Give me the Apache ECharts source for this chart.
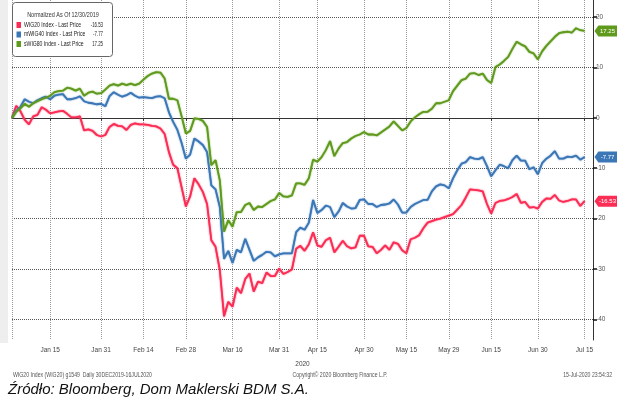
<!DOCTYPE html>
<html><head><meta charset="utf-8">
<script src="https://cdn.jsdelivr.net/npm/echarts@6/dist/echarts.min.js"></script>
<style>html,body{margin:0;padding:0;background:#fff}#c{width:617px;height:401px}</style>
</head><body><div id="c"></div><script>
// Warsaw trading calendar (weekdays minus exchange holidays)
const startDate = '2019-12-30';
const endDate = '2020-07-17';
const holidays = ['2019-12-31','2020-01-01','2020-01-06','2020-04-10','2020-04-13','2020-05-01','2020-06-11'];
const tickDates = ['2020-01-15','2020-01-31','2020-02-14','2020-02-28','2020-03-16','2020-03-31','2020-04-15','2020-04-30','2020-05-15','2020-05-29','2020-06-15','2020-06-30','2020-07-15'];
const tickLabels = ['Jan 15','Jan 31','Feb 14','Feb 28','Mar 16','Mar 31','Apr 15','Apr 30','May 15','May 29','Jun 15','Jun 30','Jul 15'];
const gridDates = ['2019-12-30'].concat(tickDates);
const yTicks = [-40,-30,-20,-10,0,10,20];
const seriesNames = ['WIG20 Index','mWIG40 Index','sWIG80 Index'];
const seriesColors = ['#fb2d55','#3b77b6','#5f9a1d'];

const wig20 = [0,2.4,1.3,-0.4,-1.3,0.3,0.6,2.1,1.6,0.9,
1.1,1.3,1.4,0.8,0.1,0.1,0.3,-2.5,-2.3,-2.6,
-3.4,-3.7,-3.4,-1.8,-1.2,-1.6,-1.7,-2.4,-1.4,-1.1,
-1.3,-1.3,-1.4,-1.6,-1.7,-2.1,-3.2,-6.8,-9.3,-10.0,
-13.8,-17.6,-15.6,-12.0,-13.2,-14.7,-17.1,-24.3,-25.6,-30.2,
-39.4,-36.5,-37.5,-33.7,-34.8,-32.0,-30.9,-34.5,-32.5,-32.8,
-30.7,-31.4,-31.4,-29.9,-31.0,-30.6,-30.1,-26.0,-25.4,-26.4,
-25.1,-22.7,-25.3,-25.6,-24.3,-23.8,-26.7,-25.6,-24.4,-25.5,
-25.9,-25.7,-23.4,-23.4,-25.5,-25.6,-26.9,-26.2,-25.3,-26.2,
-24.7,-25.0,-26.3,-26.9,-24.1,-23.8,-23.3,-21.9,-20.8,-20.5,
-20.2,-20.0,-19.7,-19.4,-19.1,-18.2,-17.3,-15.8,-14.2,-14.3,
-14.4,-14.6,-17.1,-19.0,-16.9,-16.5,-16.4,-16.1,-15.7,-15.1,
-16.9,-16.7,-17.8,-17.7,-18.0,-16.7,-16.0,-16.1,-15.3,-16.4,
-16.7,-16.5,-16.2,-16.2,-17.5,-16.53];

const mwig40 = [0,1.4,2.2,3.7,3.2,2.9,3.5,3.9,4.2,3.7,
4.4,4.6,4.7,3.7,3.7,3.9,4.3,3.3,3.0,2.9,
2.7,2.8,2.3,4.3,5.1,4.6,4.2,4.5,5.0,4.4,
4.0,4.1,4.0,3.9,4.2,4.3,3.9,1.1,-0.8,-2.4,
-5.0,-8.1,-7.3,-4.1,-4.7,-5.4,-6.8,-13.4,-14.2,-17.7,
-28.0,-26.4,-28.8,-26.2,-26.7,-24.0,-26.2,-28.4,-27.7,-27.2,
-26.6,-26.7,-27.5,-27.1,-26.9,-26.9,-26.9,-22.7,-21.8,-22.2,
-20.8,-16.3,-18.9,-18.3,-17.4,-17.7,-19.7,-18.6,-16.9,-17.6,
-18.0,-17.9,-16.3,-16.2,-17.1,-17.1,-17.7,-17.3,-17.2,-17.0,
-16.2,-17.2,-18.8,-18.8,-17.7,-17.1,-16.7,-16.3,-16.3,-14.6,
-13.6,-13.2,-13.4,-14.0,-12.0,-10.4,-9.1,-8.8,-7.8,-8.1,
-8.2,-7.8,-9.6,-11.6,-10.4,-9.3,-9.6,-10.0,-8.4,-7.5,
-8.5,-8.5,-10.2,-9.8,-11.2,-9.0,-8.1,-7.5,-6.6,-8.1,
-8.1,-7.7,-7.8,-7.5,-8.3,-7.77];

const swig80 = [0,1.2,1.9,2.8,2.2,2.9,3.3,3.7,4.0,4.4,
5.1,5.3,5.4,6.0,5.8,5.4,5.8,4.4,5.0,5.2,
4.8,4.9,5.6,6.4,6.7,6.4,6.8,6.5,6.8,6.5,
6.8,7.6,8.3,8.8,9.1,9.0,7.8,3.8,3.8,3.5,
0.3,-3.1,-2.6,-0.1,-0.2,-0.6,-1.8,-9.4,-8.4,-12.4,
-22.6,-20.3,-21.6,-18.7,-18.7,-17.3,-16.9,-18.3,-17.6,-17.7,
-17.1,-16.5,-16.2,-14.9,-15.6,-15.7,-15.4,-13.0,-13.0,-13.3,
-12.0,-8.3,-8.7,-7.8,-6.4,-4.6,-7.6,-6.1,-5.0,-4.8,
-4.1,-3.6,-3.3,-2.8,-3.3,-3.3,-3.5,-2.9,-2.3,-1.7,
-0.7,-1.6,-2.5,-2.0,-0.7,0.1,0.7,1.2,1.2,1.8,
2.9,2.9,3.2,3.5,5.3,6.4,7.5,7.8,8.8,8.9,
8.5,8.8,7.5,6.9,10.1,10.6,11.3,12.1,13.7,15.1,
14.6,14.2,13.1,12.8,11.6,13.2,14.3,15.2,16.1,16.8,
17.0,17.1,16.9,17.8,17.4,17.25];

const seriesData = [wig20, mwig40, swig80];

// build trading day categories
const tradingDays = [];
(function(){
  let d = new Date(startDate + 'T00:00:00Z');
  const end = new Date(endDate + 'T00:00:00Z');
  while (d <= end) {
    const s = d.toISOString().slice(0,10);
    const wd = d.getUTCDay();
    if (wd !== 0 && wd !== 6 && holidays.indexOf(s) < 0) tradingDays.push(s);
    d = new Date(d.getTime() + 86400000);
  }
})();

const FONT = "'Liberation Sans',Arial,sans-serif";
const SX = 0.76; // horizontal squeeze to imitate the condensed terminal font
const lastVals = seriesData.map(a => a[a.length-1]);
const tagPath = 'path://M0,5L4,0L24,0L24,10L4,10Z';

function txt(x, y, text, opt) {
  opt = opt || {};
  return {type: 'text', silent: true, z: 20, x: x, y: y, scaleX: opt.sx || SX,
    style: {text: text, fontSize: opt.size || 7, fontFamily: opt.family || FONT, fill: opt.fill || '#333',
      fontStyle: opt.style || 'normal', align: opt.align || 'left', verticalAlign: 'middle'}};
}

const graphics = [
  {type: 'rect', silent: true, z: 0, shape: {x: 0, y: 0, width: 8, height: 343}, style: {fill: '#eeeeee'}},
  {type: 'rect', silent: true, z: 15, shape: {x: 12.5, y: 2.5, width: 100, height: 54, r: 3},
    style: {fill: '#fff', stroke: '#666', lineWidth: 1}},
  txt(63, 15, 'Normalized As Of 12/30/2019', {align: 'center', size: 7.2}),
  txt(13, 375, 'WIG20 Index (WIG20) g1549  Daily 30DEC2019-16JUL2020', {size: 6.8, fill: '#555'}),
  txt(340, 375, 'Copyright\u00A9 2020 Bloomberg Finance L.P.', {size: 6.8, fill: '#555', align: 'center'}),
  txt(612, 375, '15-Jul-2020 23:54:32', {size: 6.8, fill: '#555', align: 'right'}),
  txt(8, 390, 'Źródło: Bloomberg, Dom Maklerski BDM S.A.', {size: 15, sx: 1, style: 'italic', fill: '#111'})
];
seriesNames.forEach((name, k) => {
  const yy = 25 + k * 9.5;
  graphics.push({type: 'rect', silent: true, z: 20, shape: {x: 16.5, y: yy - 3, width: 4.5, height: 6},
    style: {fill: seriesColors[k]}});
  graphics.push(txt(24, yy, name + ' - Last Price', {size: 7, sx: 0.73, fill: '#222'}));
  graphics.push(txt(103, yy, lastVals[k].toFixed(2), {size: 7, sx: 0.62, fill: '#222', align: 'right'}));
});

const chart = echarts.init(document.getElementById('c'), null, {renderer:'canvas'});
chart.setOption({
  animation: false,
  backgroundColor: '#fff',
  grid: {left: 12, right: 24, top: 0, bottom: 61, containLabel: false, outerBoundsMode: 'none'},
  xAxis: {
    type: 'category', data: tradingDays, boundaryGap: false,
    axisLine: {lineStyle: {color: '#333', width: 1}},
    axisTick: {interval: (i, v) => tickDates.indexOf(v) >= 0, length: 3, lineStyle: {color: '#333'}},
    axisLabel: {interval: (i, v) => tickDates.indexOf(v) >= 0,
      formatter: v => tickLabels[tickDates.indexOf(v)] || '',
      fontSize: 6.5, color: '#444', margin: 7, fontFamily: FONT},
    splitLine: {show: true, interval: (i, v) => gridDates.indexOf(v) >= 0,
      lineStyle: {type: 'dotted', color: '#9a9a9a', width: 1}},
    name: '2020', nameLocation: 'middle', nameGap: 21,
    nameTextStyle: {fontSize: 6.5, color: '#444', fontFamily: FONT}
  },
  yAxis: {
    type: 'value', position: 'right', min: -44.1, max: 23.4,
    axisLine: {show: true, lineStyle: {color: '#333'}},
    axisTick: {show: true, customValues: yTicks, length: 4, lineStyle: {color: '#111', width: 1.5}},
    axisLabel: {customValues: yTicks, fontSize: 6.5, color: '#555', margin: 3, fontFamily: FONT},
    splitLine: {show: true, lineStyle: {type: 'dotted', color: '#555', width: 1}}
  },
  graphic: graphics,
  series: seriesNames.map((name, k) => ({
    name: name, type: 'line', data: seriesData[k], showSymbol: false, symbol: 'none',
    z: 3 + k,
    itemStyle: {color: seriesColors[k]},
    lineStyle: {color: seriesColors[k], width: 1.8, shadowBlur: 1.5, shadowColor: seriesColors[k]},
    markPoint: {
      symbol: tagPath, symbolSize: [23, 11], symbolOffset: [21.5, 0], silent: true,
      itemStyle: {color: seriesColors[k]},
      label: {show: true, position: 'inside', offset: [1.5, 0], color: '#fff', fontSize: 6, fontFamily: FONT,
        formatter: p => p.value.toFixed(2)},
      data: [{coord: [tradingDays[seriesData[k].length - 1], lastVals[k]], value: lastVals[k]}]
    }
  }))
});
</script></body></html>
